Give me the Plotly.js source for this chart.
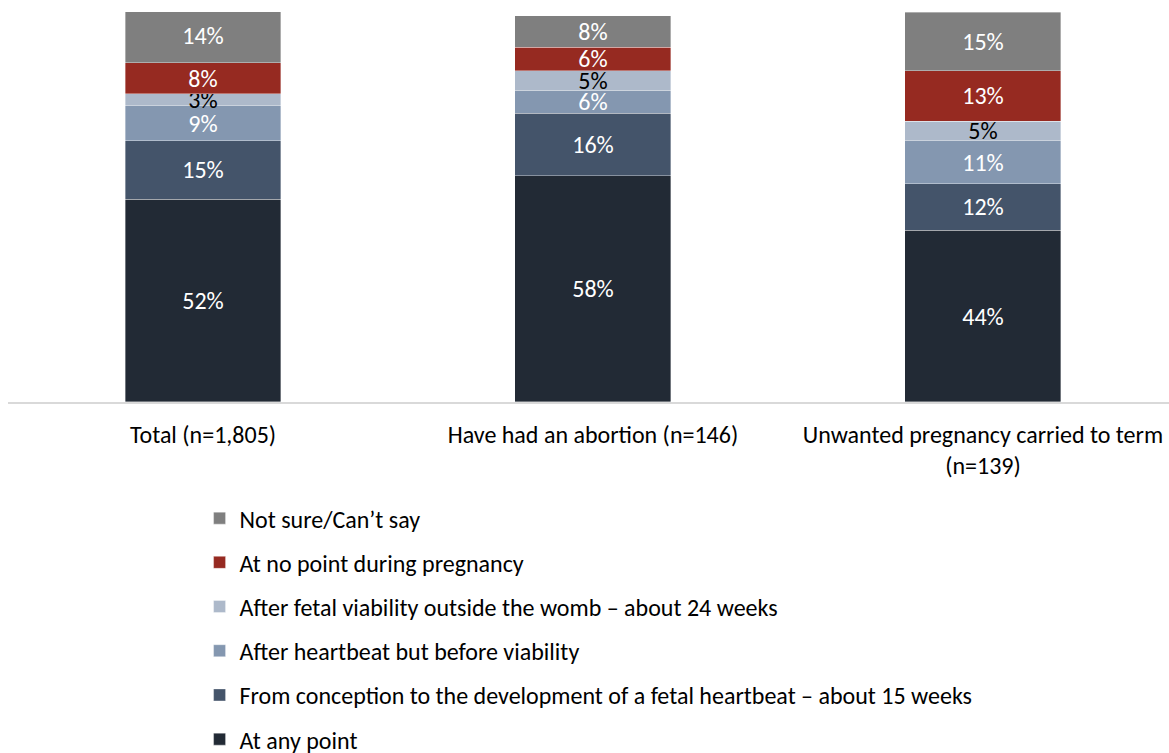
<!DOCTYPE html>
<html>
<head>
<meta charset="utf-8">
<script src="https://cdn.plot.ly/plotly-3.0.1.min.js"></script>
<style>html,body{margin:0;padding:0;background:#fff;overflow:hidden;}#chart{width:1169px;height:765px;}</style>
</head>
<body>
<div id="chart"></div>
<script>
const categories = ["Total (n=1,805)", "Have had an abortion (n=146)", "Unwanted pregnancy carried to term<br>(n=139)"];
const seriesNames = [
  "At any point",
  "From conception to the development of a fetal heartbeat – about 15 weeks",
  "After heartbeat but before viability",
  "After fetal viability outside the womb – about 24 weeks",
  "At no point during pregnancy",
  "Not sure/Can’t say"
];
const atAnyPoint      = [52, 58, 44];
const toHeartbeat     = [15, 16, 12];
const afterHeartbeat  = [9, 6, 11];
const afterViability  = [3, 5, 5];
const atNoPoint       = [8, 6, 13];
const notSure         = [14, 8, 15];

const seriesValues = [atAnyPoint, toHeartbeat, afterHeartbeat, afterViability, atNoPoint, notSure];
const colors = ["#222a35", "#44546a", "#8497b0", "#adb9ca", "#962a21", "#7f7f7f"];
const textColors = ["#ffffff", "#ffffff", "#ffffff", "#000000", "#ffffff", "#ffffff"];
const FONT = "Carlito, 'Open Sans', sans-serif";
const FS = 24;

const traces = seriesValues.map((vals, i) => ({
  type: "bar",
  name: seriesNames[i],
  x: categories,
  y: vals,
  text: vals.map(v => v + "%"),
  textposition: "inside",
  insidetextanchor: "middle",
  constraintext: "none",
  textfont: {family: FONT, size: FS, color: textColors[i]},
  marker: {color: colors[i], line: {color: "rgba(255,255,255,0.6)", width: 0.6}},
  width: 0.4,
  legendgroup: "g" + i,
  legendrank: 6 - i,
  hoverinfo: "none"
}));

const layout = {
  width: 1169,
  height: 765,
  barmode: "stack",
  margin: {l: 8, r: 0, t: 12, b: 0},
  paper_bgcolor: "#ffffff",
  plot_bgcolor: "rgba(0,0,0,0)",
  font: {family: FONT, size: FS, color: "#000000"},
  showlegend: true,
  legend: {
    orientation: "v",
    x: 0.165,
    xanchor: "left",
    y: 0.3572,
    yanchor: "top",
    traceorder: "grouped",
    tracegroupgap: 10,
    font: {family: FONT, size: FS, color: "#000000"},
    bgcolor: "rgba(0,0,0,0)"
  },
  xaxis: {
    type: "category",
    range: [-0.5, 2.477],
    showline: true,
    linecolor: "#d9d9d9",
    linewidth: 2,
    ticks: "",
    tickangle: 0,
    ticklabelstandoff: 10,
    tickfont: {family: FONT, size: FS, color: "#000000"},
    showgrid: false,
    zeroline: false,
    automargin: false
  },
  yaxis: {
    domain: [0.4821, 1],
    range: [0, 100],
    visible: false,
    showgrid: false,
    zeroline: false
  }
};

Plotly.newPlot("chart", traces, layout, {displayModeBar: false, staticPlot: true});
</script>
</body>
</html>
